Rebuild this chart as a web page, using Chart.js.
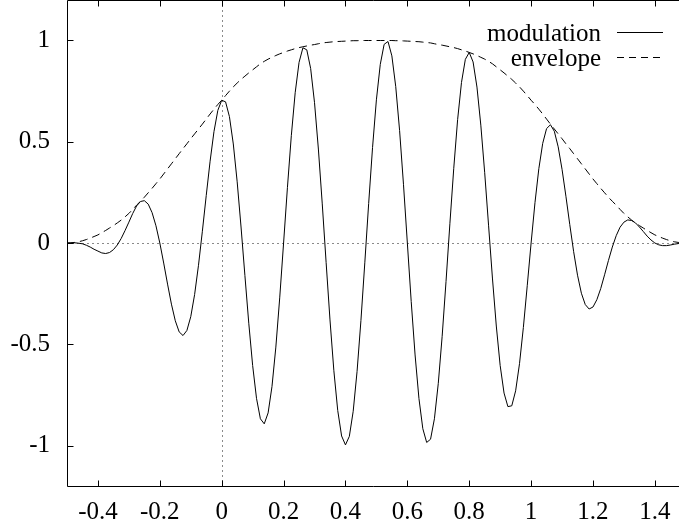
<!DOCTYPE html>
<html>
<head>
<meta charset="utf-8">
<script src="https://cdn.jsdelivr.net/npm/chart.js@4.4.1/dist/chart.umd.min.js"></script>
<style>
  html, body { margin: 0; padding: 0; background: #fff; overflow: hidden; }
  canvas { display: block; }
</style>
</head>
<body>
<canvas id="waveChart" width="679" height="531"></canvas>
<script>
// sample positions (x)
const xs = [
  -0.5, -0.4875, -0.475, -0.4625, -0.45, -0.4375, -0.425, -0.4125, -0.4, -0.3875,
  -0.375, -0.3625, -0.35, -0.3375, -0.325, -0.3125, -0.3, -0.2875, -0.275, -0.2625,
  -0.25, -0.2375, -0.225, -0.2125, -0.2, -0.1875, -0.175, -0.1625, -0.15, -0.1375,
  -0.125, -0.1125, -0.1, -0.0875, -0.075, -0.0625, -0.05, -0.0375, -0.025, -0.0125,
  0, 0.0125, 0.025, 0.0375, 0.05, 0.0625, 0.075, 0.0875, 0.1, 0.1125,
  0.125, 0.1375, 0.15, 0.1625, 0.175, 0.1875, 0.2, 0.2125, 0.225, 0.2375,
  0.25, 0.2625, 0.275, 0.2875, 0.3, 0.3125, 0.325, 0.3375, 0.35, 0.3625,
  0.375, 0.3875, 0.4, 0.4125, 0.425, 0.4375, 0.45, 0.4625, 0.475, 0.4875,
  0.5, 0.5125, 0.525, 0.5375, 0.55, 0.5625, 0.575, 0.5875, 0.6, 0.6125,
  0.625, 0.6375, 0.65, 0.6625, 0.675, 0.6875, 0.7, 0.7125, 0.725, 0.7375,
  0.75, 0.7625, 0.775, 0.7875, 0.8, 0.8125, 0.825, 0.8375, 0.85, 0.8625,
  0.875, 0.8875, 0.9, 0.9125, 0.925, 0.9375, 0.95, 0.9625, 0.975, 0.9875,
  1, 1.0125, 1.025, 1.0375, 1.05, 1.0625, 1.075, 1.0875, 1.1, 1.1125,
  1.125, 1.1375, 1.15, 1.1625, 1.175, 1.1875, 1.2, 1.2125, 1.225, 1.2375,
  1.25, 1.2625, 1.275, 1.2875, 1.3, 1.3125, 1.325, 1.3375, 1.35, 1.3625,
  1.375, 1.3875, 1.4, 1.4125, 1.425, 1.4375, 1.45, 1.4625, 1.475, 1.4875,
  1.5
];

const modulation = [
  0, 0, 0.001, -0.001, -0.004, -0.011, -0.02, -0.031, -0.04, -0.049,
  -0.052, -0.047, -0.033, -0.01, 0.022, 0.061, 0.103, 0.146, 0.183, 0.205,
  0.209, 0.192, 0.15, 0.085, 0, -0.099, -0.203, -0.302, -0.384, -0.439,
  -0.457, -0.432, -0.364, -0.254, -0.11, 0.058, 0.234, 0.404, 0.55, 0.655,
  0.705, 0.697, 0.624, 0.489, 0.302, 0.079, -0.161, -0.396, -0.605, -0.767,
  -0.868, -0.893, -0.839, -0.709, -0.514, -0.271, 0, 0.275, 0.53, 0.742,
  0.892, 0.964, 0.954, 0.862, 0.693, 0.464, 0.193, -0.097, -0.38, -0.631,
  -0.827, -0.953, -0.997, -0.955, -0.831, -0.634, -0.383, -0.098, 0.195, 0.471,
  0.707, 0.882, 0.981, 0.995, 0.924, 0.772, 0.555, 0.29, 0, -0.289,
  -0.553, -0.768, -0.917, -0.985, -0.969, -0.868, -0.693, -0.461, -0.19, 0.095,
  0.369, 0.609, 0.793, 0.907, 0.941, 0.894, 0.77, 0.582, 0.347, 0.088,
  -0.173, -0.41, -0.605, -0.741, -0.808, -0.804, -0.73, -0.596, -0.417, -0.211,
  0, 0.199, 0.367, 0.492, 0.565, 0.584, 0.552, 0.475, 0.364, 0.231,
  0.091, -0.043, -0.159, -0.248, -0.304, -0.326, -0.316, -0.28, -0.225, -0.157,
  -0.086, -0.02, 0.036, 0.078, 0.103, 0.114, 0.111, 0.099, 0.079, 0.057,
  0.034, 0.015, 0, -0.009, -0.013, -0.013, -0.01, -0.006, -0.003, -0.001,
  0
];

const envelope = [
  0, 0.001, 0.003, 0.006, 0.011, 0.017, 0.024, 0.032, 0.04, 0.051,
  0.062, 0.074, 0.086, 0.099, 0.113, 0.129, 0.146, 0.166, 0.187, 0.206,
  0.226, 0.248, 0.27, 0.293, 0.316, 0.341, 0.366, 0.391, 0.416, 0.441,
  0.466, 0.49, 0.515, 0.539, 0.563, 0.587, 0.612, 0.637, 0.661, 0.684,
  0.705, 0.728, 0.75, 0.771, 0.79, 0.808, 0.824, 0.84, 0.855, 0.87,
  0.885, 0.897, 0.908, 0.917, 0.926, 0.934, 0.941, 0.948, 0.954, 0.96,
  0.965, 0.969, 0.973, 0.977, 0.98, 0.984, 0.988, 0.99, 0.992, 0.994,
  0.995, 0.996, 0.997, 0.998, 0.999, 0.999, 1, 1, 1, 1,
  1, 1, 1, 1, 1, 0.999, 0.999, 0.998, 0.997, 0.996,
  0.995, 0.994, 0.992, 0.99, 0.988, 0.984, 0.98, 0.977, 0.973, 0.969,
  0.965, 0.96, 0.954, 0.948, 0.941, 0.934, 0.926, 0.917, 0.908, 0.897,
  0.885, 0.87, 0.855, 0.84, 0.824, 0.808, 0.79, 0.771, 0.75, 0.728,
  0.705, 0.684, 0.661, 0.637, 0.612, 0.587, 0.563, 0.539, 0.515, 0.49,
  0.466, 0.441, 0.416, 0.391, 0.366, 0.341, 0.316, 0.293, 0.27, 0.248,
  0.226, 0.206, 0.187, 0.166, 0.146, 0.129, 0.113, 0.099, 0.086, 0.074,
  0.062, 0.051, 0.04, 0.032, 0.024, 0.017, 0.011, 0.006, 0.003, 0.001,
  0
];

const xTicks = [-0.4, -0.2, 0, 0.2, 0.4, 0.6, 0.8, 1, 1.2, 1.4];
const yTicks = [-1, -0.5, 0, 0.5, 1];
const seriesNames = ['modulation', 'envelope'];

const FONT = "'Liberation Serif', 'Times New Roman', Times, serif";
const FONT_SIZE = 25;
const DASH = [8, 5];

// gnuplot look: zero axes, frame with inward ticks, legend in the corner
const gnuplotFrame = {
  id: 'gnuplotFrame',
  beforeDatasetsDraw(chart) {
    const { ctx, chartArea: a, scales: { x, y } } = chart;
    const x0 = Math.round(x.getPixelForValue(0)) + 0.5;
    const y0 = Math.round(y.getPixelForValue(0)) + 0.5;
    ctx.save();
    ctx.strokeStyle = '#8a8a8a';
    ctx.lineWidth = 1;
    ctx.setLineDash([2, 3]);
    ctx.beginPath();
    ctx.moveTo(a.left, y0); ctx.lineTo(a.right, y0);
    ctx.moveTo(x0, a.top); ctx.lineTo(x0, a.bottom);
    ctx.stroke();
    ctx.restore();
  },
  afterDatasetsDraw(chart) {
    const { ctx, chartArea: a, scales: { x, y } } = chart;
    const L = a.left + 0.5, B = a.bottom + 0.5, T = a.top + 0.5;
    ctx.save();
    ctx.strokeStyle = '#000';
    ctx.lineWidth = 1;
    ctx.beginPath();
    ctx.moveTo(a.right, T); ctx.lineTo(L, T); ctx.lineTo(L, B); ctx.lineTo(a.right, B);
    // inward ticks
    yTicks.forEach(v => {
      const py = Math.round(y.getPixelForValue(v)) + 0.5;
      ctx.moveTo(L, py); ctx.lineTo(L + 6, py);
    });
    xTicks.forEach(v => {
      const px = Math.round(x.getPixelForValue(v)) + 0.5;
      ctx.moveTo(px, B); ctx.lineTo(px, B - 6);
      ctx.moveTo(px, T); ctx.lineTo(px, T + 6);
    });
    ctx.stroke();

    // key
    ctx.font = FONT_SIZE + 'px ' + FONT;
    ctx.fillStyle = '#000';
    ctx.textAlign = 'right';
    ctx.textBaseline = 'alphabetic';
    const rows = [41, 66];
    seriesNames.forEach((name, i) => {
      ctx.fillText(name, 601, rows[i]);
      const ly = rows[i] - 8.5;
      ctx.setLineDash(i === 0 ? [] : [7, 5]);
      ctx.beginPath();
      ctx.moveTo(617, ly); ctx.lineTo(663, ly);
      ctx.stroke();
    });
    ctx.restore();
  }
};

new Chart(document.getElementById('waveChart'), {
  type: 'line',
  data: {
    datasets: [{
      label: seriesNames[0],
      data: xs.map((v, i) => ({ x: v, y: modulation[i] })),
      borderColor: '#000',
      borderWidth: 1,
      pointRadius: 0,
      tension: 0
    }, {
      label: seriesNames[1],
      data: xs.map((v, i) => ({ x: v, y: envelope[i] })),
      borderColor: '#000',
      borderWidth: 1,
      borderDash: DASH,
      pointRadius: 0,
      tension: 0
    }]
  },
  options: {
    responsive: false,
    animation: false,
    layout: { padding: 0 },
    plugins: {
      legend: { display: false },
      tooltip: { enabled: false }
    },
    scales: {
      x: {
        type: 'linear',
        min: -0.5,
        max: 1.478,
        afterBuildTicks: s => { s.ticks = xTicks.map(v => ({ value: v })); },
        afterFit: s => { s.height = 45; s.paddingLeft = 0; s.paddingRight = 0; },
        grid: { display: false, drawTicks: false },
        border: { display: false },
        ticks: {
          color: '#000',
          font: { family: FONT, size: FONT_SIZE },
          padding: 11,
          maxRotation: 0,
          autoSkip: false,
          callback: v => String(v)
        }
      },
      y: {
        min: -1.2,
        max: 1.2,
        afterBuildTicks: s => { s.ticks = yTicks.map(v => ({ value: v })); },
        afterFit: s => { s.width = 67; s.paddingTop = 0; s.paddingBottom = 0; },
        grid: { display: false, drawTicks: false },
        border: { display: false },
        ticks: {
          color: '#000',
          font: { family: FONT, size: FONT_SIZE },
          padding: 17,
          callback: v => String(v)
        }
      }
    }
  },
  plugins: [gnuplotFrame]
});
</script>
</body>
</html>
